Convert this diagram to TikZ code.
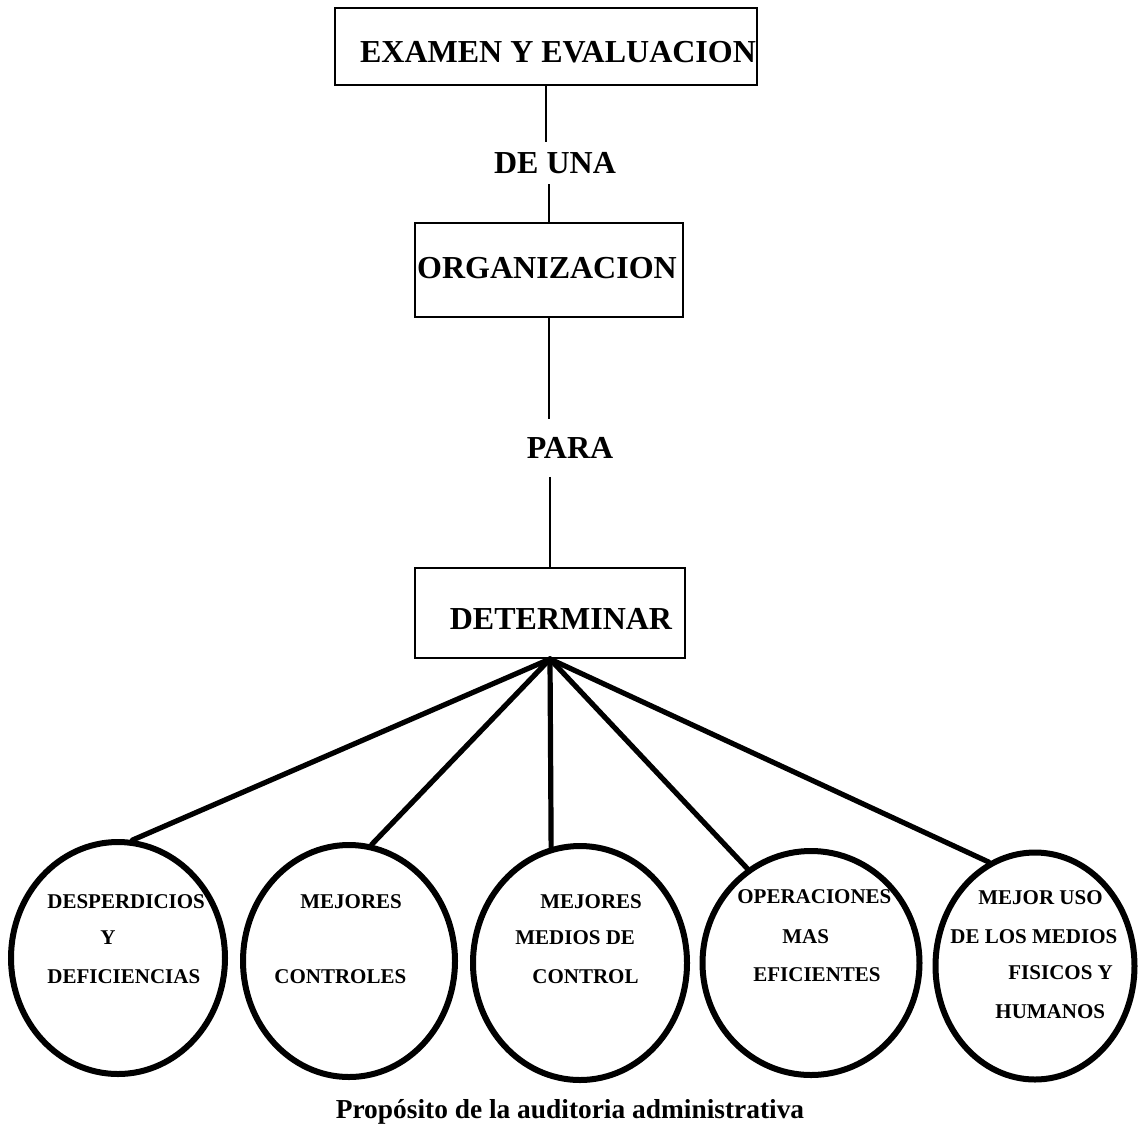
\documentclass[tikz,border=0pt]{standalone}
\usepackage{fontspec}
\setmainfont{Liberation Serif}
\usetikzlibrary{shapes.geometric}
\begin{document}
\begin{tikzpicture}[x=0.5pt,y=-0.5pt,
  box/.style={draw, line width=1pt, rectangle, inner sep=0pt},
  bigtxt/.style={font=\fontsize{16}{19}\selectfont\bfseries, inner sep=0pt},
  circ/.style={draw, ellipse, line width=3pt, inner sep=0pt},
  ctxt/.style={font=\fontsize{10.5}{12}\selectfont\bfseries, inner sep=0pt, anchor=west},
  vline/.style={line width=1.1pt},
  spoke/.style={line width=2.6pt, line cap=round}
]
\useasboundingbox (0,0) rectangle (1140,1136);

% boxes
\node[box, minimum width=211pt, minimum height=38.5pt] (b1) at (546,46.5) {};
\node[bigtxt] (t1) at (558,52) {EXAMEN Y EVALUACION};
\node[box, minimum width=134pt, minimum height=47pt] (b2) at (549,270) {};
\node[bigtxt] (t2) at (547,268) {ORGANIZACION};
\node[box, minimum width=135pt, minimum height=45pt] (b3) at (550,613) {};
\node[bigtxt] (t3) at (561,619) {DETERMINAR};

% connector labels
\node[bigtxt, inner ysep=5pt] (deuna) at (555,163) {DE UNA};
\node[bigtxt, inner ysep=9pt] (para) at (570,448) {PARA};

\draw[vline] (b1.south) -- (b1.south |- deuna.north);
\draw[vline] (b2.north |- deuna.south) -- (b2.north);
\draw[vline] (b2.south) -- (b2.south |- para.north);
\draw[vline] (b3.north |- para.south) -- (b3.north);

% circles
\node[circ, minimum width=107pt, minimum height=116pt] (c1) at (118,958) {};
\node[circ, minimum width=106pt, minimum height=116pt] (c2) at (349,961) {};
\node[circ, minimum width=107pt, minimum height=117pt] (c3) at (580,963) {};
\node[circ, minimum width=108.5pt, minimum height=112pt] (c4) at (811,963) {};
\node[circ, minimum width=99.5pt, minimum height=113.5pt] (c5) at (1035,966) {};

% spokes
\draw[spoke] (b3.south) -- (c1.83);
\draw[spoke] (b3.south) -- (c2.79);
\draw[spoke] (b3.south) -- (c3.104);
\draw[spoke] (b3.south) -- (c4.124);
\draw[spoke] (b3.south) -- (c5.114);

% circle texts
\node[ctxt] (c1a) at (47,902) {DESPERDICIOS};
\node[ctxt] (c1b) at (100,938) {Y};
\node[ctxt] (c1c) at (47,977) {DEFICIENCIAS};

\node[ctxt] (c2a) at (300,902) {MEJORES};
\node[ctxt] (c2b) at (274,977) {CONTROLES};

\node[ctxt] (c3a) at (540,902) {MEJORES};
\node[ctxt] (c3b) at (515,938) {MEDIOS DE};
\node[ctxt] (c3c) at (532,977) {CONTROL};

\node[ctxt] (c4a) at (737,897) {OPERACIONES};
\node[ctxt] (c4b) at (782,937) {MAS};
\node[ctxt] (c4c) at (753,975) {EFICIENTES};

\node[ctxt] (c5a) at (978,898) {MEJOR USO};
\node[ctxt] (c5b) at (950,937) {DE LOS MEDIOS};
\node[ctxt] (c5c) at (1008,973) {FISICOS Y};
\node[ctxt] (c5d) at (995,1012) {HUMANOS};

% caption
\node[font=\fontsize{13.7}{16}\selectfont\bfseries, inner sep=0pt, anchor=base] (cap) at (570,1118) {Propósito de la auditoria administrativa};
\end{tikzpicture}
\end{document}
